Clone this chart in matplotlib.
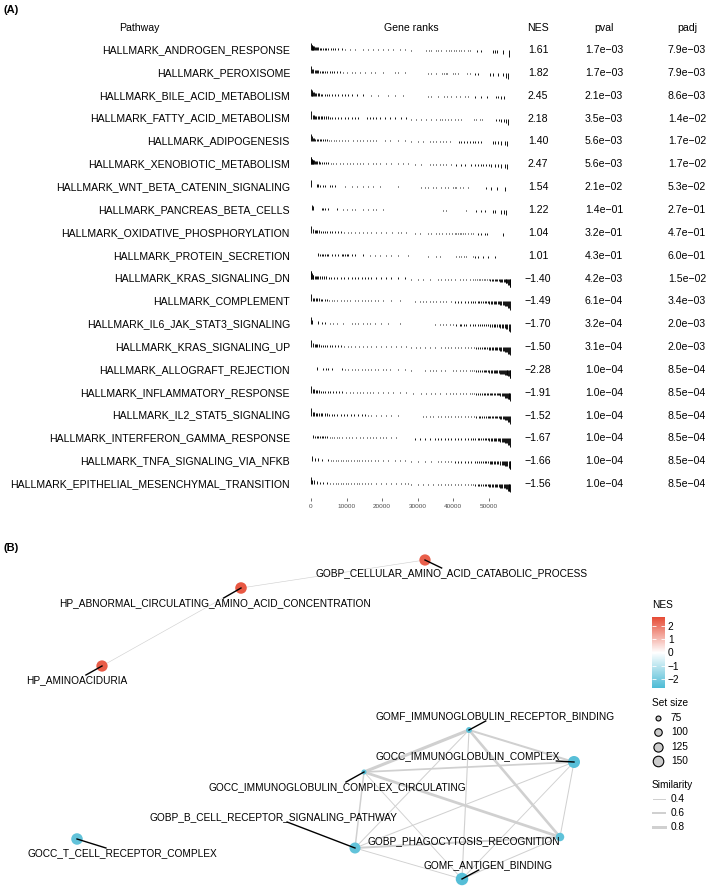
import numpy as np
import matplotlib.pyplot as plt
from matplotlib.colors import LinearSegmentedColormap, TwoSlopeNorm
from matplotlib.cm import ScalarMappable
from matplotlib.transforms import blended_transform_factory

plt.rcParams['font.family'] = ['Liberation Sans', 'DejaVu Sans']

# ---------------- data: panel A (GSEA table) ----------------
pathways = [
    "HALLMARK_ANDROGEN_RESPONSE", "HALLMARK_PEROXISOME", "HALLMARK_BILE_ACID_METABOLISM",
    "HALLMARK_FATTY_ACID_METABOLISM", "HALLMARK_ADIPOGENESIS", "HALLMARK_XENOBIOTIC_METABOLISM",
    "HALLMARK_WNT_BETA_CATENIN_SIGNALING", "HALLMARK_PANCREAS_BETA_CELLS",
    "HALLMARK_OXIDATIVE_PHOSPHORYLATION", "HALLMARK_PROTEIN_SECRETION",
    "HALLMARK_KRAS_SIGNALING_DN", "HALLMARK_COMPLEMENT", "HALLMARK_IL6_JAK_STAT3_SIGNALING",
    "HALLMARK_KRAS_SIGNALING_UP", "HALLMARK_ALLOGRAFT_REJECTION", "HALLMARK_INFLAMMATORY_RESPONSE",
    "HALLMARK_IL2_STAT5_SIGNALING", "HALLMARK_INTERFERON_GAMMA_RESPONSE",
    "HALLMARK_TNFA_SIGNALING_VIA_NFKB", "HALLMARK_EPITHELIAL_MESENCHYMAL_TRANSITION",
]
nes = [1.61, 1.82, 2.45, 2.18, 1.40, 2.47, 1.54, 1.22, 1.04, 1.01,
       -1.40, -1.49, -1.70, -1.50, -2.28, -1.91, -1.52, -1.67, -1.66, -1.56]
pval = [1.7e-3, 1.7e-3, 2.1e-3, 3.5e-3, 5.6e-3, 5.6e-3, 2.1e-2, 1.4e-1, 3.2e-1, 4.3e-1,
        4.2e-3, 6.1e-4, 3.2e-4, 3.1e-4, 1.0e-4, 1.0e-4, 1.0e-4, 1.0e-4, 1.0e-4, 1.0e-4]
padj = [7.9e-3, 7.9e-3, 8.6e-3, 1.4e-2, 1.7e-2, 1.7e-2, 5.3e-2, 2.7e-1, 4.7e-1, 6.0e-1,
        1.5e-2, 3.4e-3, 2.0e-3, 2.0e-3, 8.5e-4, 8.5e-4, 8.5e-4, 8.5e-4, 8.5e-4, 8.5e-4]

n_genes = 56200
rank_ticks = [0, 10000, 20000, 30000, 40000, 50000]

# ranked statistic (scaled to max |stat| = 1), read as steps along the rank axis (thousands)
stat_edges_k = [0, 0.15, 0.4, 1.0, 2.5, 5.0, 9.0, 16.0, 28.0, 40.0, 46.0, 50.0, 53.0, 54.5, 55.3, 55.8]
stat_values = [0.75, 0.55, 0.4, 0.3, 0.22, 0.17, 0.13, 0.11, -0.11, -0.14, -0.2, -0.28, -0.38, -0.5, -0.68, -0.85]

# gene positions of each pathway in the ranked list (thousands)
gene_ranks_k = [
    [0.05, 0.15, 0.3, 0.5, 0.7, 0.9, 1.2, 1.5, 1.8, 2.1, 2.5, 2.9, 3.3, 3.8, 4.3, 4.9, 5.5, 6.1, 6.8, 7.6,
     8.6, 9.6, 11.0, 12.4, 14.7, 16.1, 17.5, 18.9, 20.3, 21.7, 23.1, 25.0, 26.4, 28.2, 32.2, 33.1, 33.8,
     35.0, 35.7, 36.6, 38.0, 38.7, 39.4, 40.2, 40.8, 41.5, 42.2, 43.0, 44.1, 44.8, 46.6, 47.7, 51.1, 51.7,
     52.2, 54.0, 55.7],
    [0.1, 0.4, 0.7, 1.0, 1.3, 1.7, 2.1, 2.5, 3.0, 3.5, 4.0, 4.6, 5.2, 5.9, 6.6, 7.3, 8.1, 9.1, 10.0, 11.4,
     12.3, 13.7, 15.1, 17.0, 17.9, 20.3, 23.6, 24.5, 26.4, 32.9, 33.8, 35.2, 36.9, 37.4, 37.9, 38.3, 39.9,
     40.4, 41.3, 43.7, 44.6, 46.0, 46.9, 50.2, 51.1, 52.5, 53.9, 54.9, 55.4],
    [0.05, 0.2, 0.4, 0.6, 0.9, 1.2, 1.5, 1.9, 2.3, 2.7, 3.2, 3.8, 4.4, 5.1, 5.8, 6.7, 7.7, 8.6, 9.5, 10.5,
     11.4, 12.8, 14.7, 17.0, 18.9, 21.7, 23.6, 25.9, 32.9, 33.8, 35.7, 37.4, 38.3, 39.4, 40.8, 41.8, 43.2,
     44.1, 46.0, 47.9, 49.5, 52.1, 52.5, 53.5, 54.2],
    [0.05, 0.6, 0.9, 1.2, 1.5, 1.9, 2.3, 2.7, 3.1, 3.6, 4.1, 4.7, 5.3, 6.0, 6.8, 7.6, 8.5, 9.5, 10.5, 11.4,
     12.3, 13.3, 15.6, 16.5, 17.5, 18.4, 19.3, 20.7, 22.1, 23.6, 25.4, 26.8, 28.2, 29.6, 31.0, 32.4, 33.8,
     35.2, 36.2, 36.8, 37.6, 38.5, 39.4, 40.4, 41.3, 42.2, 45.8, 46.4, 47.4, 48.0, 52.1, 52.7, 53.5, 54.1,
     54.7, 55.3],
    [0.05, 0.3, 0.6, 0.9, 1.2, 1.6, 2.0, 2.4, 2.9, 3.4, 3.9, 4.5, 5.1, 5.7, 6.4, 7.1, 7.9, 8.7, 9.6, 10.5,
     11.9, 12.8, 13.8, 14.7, 15.6, 16.5, 17.5, 18.4, 20.7, 22.1, 24.5, 26.4, 28.2, 30.1, 31.5, 33.4, 34.3,
     35.2, 36.2, 37.1, 38.0, 39.0, 41.5, 42.2, 43.0, 43.7, 44.6, 45.5, 46.2, 46.9, 47.9, 51.1, 51.8, 52.5,
     53.5, 54.4, 55.1],
    [0.02, 0.1, 0.2, 0.35, 0.5, 0.7, 0.9, 1.2, 1.5, 1.8, 2.2, 2.6, 3.1, 3.6, 4.2, 4.8, 5.5, 6.2, 6.9, 8.1,
     9.1, 10.0, 11.0, 11.9, 12.8, 13.8, 14.7, 16.1, 17.5, 18.4, 19.3, 21.2, 22.6, 24.5, 25.9, 27.3, 29.2,
     31.0, 33.4, 34.3, 35.2, 36.2, 37.1, 38.0, 39.4, 40.8, 42.2, 43.2, 45.0, 46.0, 46.9, 47.7, 48.3, 49.3,
     49.9, 50.7, 51.6, 52.5, 53.5, 54.4, 55.0],
    [0.05, 1.6, 2.1, 2.5, 3.5, 3.9, 5.3, 5.8, 6.7, 9.5, 11.4, 12.8, 14.7, 16.1, 17.5, 19.3, 24.5, 31.0,
     32.0, 32.9, 34.3, 35.2, 36.6, 37.6, 38.5, 39.9, 40.4, 40.8, 41.8, 42.7, 44.1, 49.3, 50.7, 52.3, 54.4],
    [0.2, 0.65, 3.0, 3.5, 3.9, 4.7, 7.2, 9.1, 10.0, 11.4, 12.3, 14.7, 16.1, 17.5, 18.4, 20.3, 37.1, 38.0,
     43.6, 46.4, 47.9, 48.8, 51.1, 51.8, 53.5, 54.2, 54.9],
    [0.05, 0.6, 1.0, 1.4, 1.8, 2.3, 2.8, 3.3, 3.9, 4.5, 5.2, 5.9, 6.7, 7.5, 8.4, 9.3, 10.3, 11.3, 12.3,
     13.4, 14.5, 15.6, 16.8, 18.2, 19.6, 21.0, 22.9, 24.5, 25.4, 26.8, 29.2, 30.6, 32.9, 33.8, 35.0, 35.9,
     36.8, 37.8, 38.7, 39.6, 40.4, 40.8, 41.3, 41.8, 42.2, 42.7, 43.2, 44.1, 45.0, 45.5, 46.9, 47.7, 48.8,
     49.5, 54.0],
    [2.1, 2.5, 3.0, 3.5, 3.9, 4.4, 4.9, 5.8, 6.7, 7.7, 8.6, 9.1, 9.5, 10.0, 10.5, 11.4, 12.3, 14.7, 16.5,
     17.9, 19.3, 21.2, 22.6, 24.5, 27.3, 32.9, 35.2, 36.2, 40.8, 41.5, 42.2, 43.0, 43.6, 45.5, 46.2, 46.9,
     48.3, 49.7, 51.6],
    [0.02, 0.1, 0.25, 0.45, 0.7, 1.0, 1.3, 1.7, 2.1, 2.6, 3.1, 3.7, 4.3, 5.0, 5.7, 6.5, 7.4, 8.4, 9.4, 10.5,
     11.4, 12.3, 13.3, 14.2, 15.1, 16.1, 17.0, 18.4, 19.8, 21.2, 22.6, 24.5, 26.4, 28.2, 30.1, 31.5, 33.4,
     35.7, 36.6, 37.6, 38.5, 39.4, 40.4, 41.8, 42.7, 43.6, 44.6, 45.5, 46.0, 46.6, 47.1, 47.6, 48.1, 48.6,
     49.0, 49.5, 49.9, 50.4, 50.8, 51.2, 51.6, 52.0, 52.4, 52.8, 53.1, 53.5, 53.8, 54.1, 54.4, 54.7, 54.9,
     55.2, 55.4, 55.6, 55.8, 56.0],
    [0.05, 0.5, 0.9, 1.3, 1.7, 2.2, 2.7, 3.2, 3.8, 4.4, 5.1, 5.8, 6.6, 7.4, 8.3, 9.2, 10.1, 11.0, 12.3,
     13.3, 14.2, 15.1, 16.1, 17.0, 17.9, 18.9, 20.3, 22.6, 24.9, 29.2, 30.6, 31.5, 32.4, 33.4, 34.3, 35.2,
     36.2, 37.1, 38.0, 39.4, 40.4, 41.3, 42.2, 43.2, 44.1, 45.0, 45.6, 46.2, 46.8, 47.3, 47.8, 48.3, 48.8,
     49.2, 49.7, 50.1, 50.5, 50.9, 51.3, 51.7, 52.1, 52.5, 52.9, 53.2, 53.5, 53.9, 54.2, 54.5, 54.8, 55.1,
     55.4, 55.7, 55.9],
    [0.05, 0.4, 2.0, 3.0, 3.9, 5.3, 6.3, 7.2, 9.1, 11.4, 12.3, 13.3, 14.7, 15.6, 16.5, 18.0, 19.8, 21.7,
     24.9, 34.8, 36.2, 37.1, 38.0, 39.0, 39.9, 40.8, 41.8, 42.2, 43.0, 43.6, 44.6, 45.5, 46.2, 46.9, 47.5,
     48.1, 48.7, 49.2, 49.8, 50.3, 50.8, 51.3, 51.8, 52.3, 52.7, 53.1, 53.6, 54.0, 54.4, 54.8, 55.2, 55.6,
     55.9],
    [0.05, 0.6, 1.0, 1.4, 1.8, 2.3, 2.8, 3.3, 3.9, 4.5, 5.2, 5.9, 6.7, 7.5, 8.4, 9.3, 10.3, 11.3, 12.3,
     13.4, 14.5, 15.6, 17.0, 18.4, 19.8, 21.2, 22.6, 24.0, 25.4, 26.8, 28.2, 29.6, 30.6, 31.9, 33.4, 34.8,
     36.6, 37.6, 38.5, 39.4, 40.4, 41.3, 42.2, 43.2, 44.1, 45.0, 45.7, 46.3, 46.9, 47.5, 48.0, 48.5, 49.0,
     49.5, 50.0, 50.4, 50.8, 51.2, 51.6, 52.0, 52.4, 52.8, 53.2, 53.5, 53.9, 54.2, 54.5, 54.8, 55.1, 55.4,
     55.7, 55.9],
    [1.6, 3.5, 4.2, 4.9, 5.8, 8.6, 9.5, 10.5, 11.4, 12.3, 13.3, 14.2, 15.1, 16.1, 17.0, 17.9, 18.9, 20.3,
     21.2, 22.1, 24.5, 26.4, 28.2, 31.9, 33.4, 34.3, 35.2, 36.6, 37.6, 39.9, 40.8, 41.8, 42.7, 43.6, 44.6,
     45.3, 45.9, 46.5, 47.0, 47.5, 48.0, 48.5, 48.9, 49.3, 49.7, 50.1, 50.5, 50.9, 51.3, 51.7, 52.0, 52.4,
     52.7, 53.0, 53.3, 53.6, 53.9, 54.2, 54.5, 54.7, 55.0, 55.2, 55.4, 55.6, 55.8, 56.0],
    [0.05, 0.5, 0.9, 1.3, 1.8, 2.3, 2.8, 3.4, 4.0, 4.7, 5.4, 6.2, 7.0, 7.9, 8.8, 9.8, 11.0, 11.9, 12.8,
     13.8, 14.7, 15.6, 16.5, 17.5, 18.9, 20.3, 21.7, 23.1, 24.9, 26.8, 28.7, 31.0, 32.4, 33.8, 34.8, 36.2,
     38.0, 39.0, 39.9, 40.8, 41.8, 42.7, 43.6, 44.6, 45.2, 45.8, 46.4, 47.0, 47.5, 48.0, 48.5, 49.0, 49.4,
     49.8, 50.2, 50.6, 51.0, 51.4, 51.8, 52.2, 52.6, 52.9, 53.2, 53.6, 53.9, 54.2, 54.5, 54.8, 55.0, 55.3,
     55.5, 55.7, 55.9],
    [0.05, 0.5, 0.9, 1.3, 1.7, 2.2, 2.7, 3.2, 3.8, 4.4, 5.1, 5.8, 6.6, 7.4, 8.3, 9.2, 10.2, 11.2, 12.2,
     13.2, 14.2, 15.1, 16.1, 17.0, 18.4, 19.8, 21.2, 22.6, 24.5, 31.5, 32.4, 33.4, 34.3, 35.7, 36.6, 37.6,
     38.5, 39.4, 40.4, 41.3, 42.2, 43.2, 44.1, 45.0, 45.9, 46.5, 47.1, 47.6, 48.1, 48.6, 49.1, 49.6, 50.0,
     50.4, 50.8, 51.2, 51.6, 52.0, 52.4, 52.8, 53.2, 53.5, 53.9, 54.2, 54.5, 54.8, 55.1, 55.4, 55.7, 55.9],
    [0.7, 1.1, 1.6, 2.1, 2.5, 3.0, 3.5, 4.0, 4.6, 5.2, 5.8, 6.5, 7.2, 8.0, 8.8, 9.7, 10.6, 11.5, 12.6, 13.7,
     14.7, 15.6, 16.5, 17.5, 18.4, 19.3, 20.3, 21.2, 22.6, 24.0, 29.2, 30.6, 32.0, 33.4, 34.8, 35.7, 36.6,
     37.6, 38.5, 39.4, 40.4, 41.3, 42.2, 43.2, 44.1, 45.0, 45.6, 46.2, 46.8, 47.3, 47.8, 48.3, 48.8, 49.3,
     49.7, 50.1, 50.5, 50.9, 51.3, 51.7, 52.1, 52.5, 52.9, 53.2, 53.6, 53.9, 54.2, 54.5, 54.8, 55.1, 55.4,
     55.7, 55.9],
    [0.2, 1.1, 2.1, 3.0, 4.9, 5.6, 6.3, 7.0, 7.7, 8.4, 9.1, 9.8, 10.5, 11.2, 12.0, 12.8, 13.6, 14.4, 15.1,
     16.1, 17.0, 17.9, 18.9, 20.3, 21.7, 23.6, 25.0, 26.4, 28.2, 30.1, 31.9, 33.8, 35.7, 36.6, 37.6, 38.5,
     39.4, 40.4, 41.3, 42.2, 43.2, 44.1, 45.0, 46.0, 46.6, 47.2, 47.8, 48.3, 48.8, 49.3, 49.8, 50.2, 50.6,
     51.0, 51.4, 51.8, 52.2, 52.6, 53.0, 53.6, 54.0, 54.3, 54.6, 54.9, 55.2, 55.5, 55.8, 56.0],
    [0.05, 0.4, 0.9, 1.6, 2.5, 3.5, 4.4, 5.3, 6.3, 7.0, 7.7, 8.4, 9.1, 9.8, 10.5, 11.2, 12.0, 12.8, 13.6,
     14.2, 15.1, 16.1, 17.0, 18.4, 19.8, 21.2, 22.6, 24.0, 25.4, 26.4, 27.3, 28.2, 30.1, 31.5, 32.9, 34.3,
     35.7, 36.6, 37.6, 38.5, 39.4, 40.4, 41.3, 42.2, 43.2, 44.1, 45.0, 45.6, 46.2, 46.8, 47.3, 47.8, 48.3,
     48.8, 49.2, 49.6, 50.0, 50.4, 50.8, 51.2, 51.6, 52.0, 52.4, 52.8, 53.1, 53.5, 53.8, 54.1, 54.4, 54.7,
     55.0, 55.3, 55.5, 55.7, 55.9],
]

# ---------------- data: panel B (enrichment network) ----------------
node_names = [
    "GOBP_CELLULAR_AMINO_ACID_CATABOLIC_PROCESS", "HP_ABNORMAL_CIRCULATING_AMINO_ACID_CONCENTRATION",
    "HP_AMINOACIDURIA", "GOMF_IMMUNOGLOBULIN_RECEPTOR_BINDING", "GOCC_IMMUNOGLOBULIN_COMPLEX",
    "GOCC_IMMUNOGLOBULIN_COMPLEX_CIRCULATING", "GOBP_B_CELL_RECEPTOR_SIGNALING_PATHWAY",
    "GOBP_PHAGOCYTOSIS_RECOGNITION", "GOMF_ANTIGEN_BINDING", "GOCC_T_CELL_RECEPTOR_COMPLEX",
]
node_nes = [2.35, 2.45, 2.40, -2.45, -2.55, -2.50, -2.40, -2.45, -2.60, -2.40]
node_size = [145, 150, 145, 75, 160, 70, 140, 100, 170, 150]
# layout coordinates (x right, y up)
layout_x = [4.25, 2.41, 1.02, 4.69, 5.74, 3.64, 3.55, 5.60, 4.62, 0.77]
layout_y = [3.30, 3.02, 2.24, 1.60, 1.28, 1.18, 0.42, 0.53, 0.11, 0.51]
label_x = [4.52, 2.15, 0.77, 4.95, 4.68, 3.37, 2.74, 4.64, 4.88, 1.22]
label_y = [3.17, 2.87, 2.10, 1.74, 1.34, 1.03, 0.73, 0.49, 0.25, 0.37]

edge_from = [0, 1, 3, 3, 3, 3, 3, 5, 5, 5, 5, 4, 4, 4, 6, 6, 7]
edge_to = [1, 2, 5, 4, 7, 6, 8, 4, 7, 6, 8, 6, 7, 8, 7, 8, 8]
edge_sim = [0.32, 0.32, 0.82, 0.6, 0.72, 0.4, 0.42, 0.55, 0.75, 0.5, 0.38, 0.4, 0.4, 0.38, 0.6, 0.38, 0.4]

legend_sizes = [75, 100, 125, 150]
legend_sims = [0.4, 0.6, 0.8]
nes_ticks = [2, 1, 0, -1, -2]

# ---------------- figure ----------------
W, H = 709, 890
fig = plt.figure(figsize=(W / 100, H / 100), dpi=100)


def fx(px):
    return px / W


def fy(py):
    return 1 - py / H


def minus(s):
    return s.replace('-', '\u2212')


# --- panel A ---
row_top, row_step = 50, 22.85
ax_top_px = row_top - 0.5 * row_step
ax_bot_px = 498
ax = fig.add_axes([fx(311), fy(ax_bot_px), fx(511) - fx(311), (ax_bot_px - ax_top_px) / H])
ax.set_xlim(0, n_genes)
ax.set_ylim((ax_bot_px - row_top) / row_step, -0.5)

for i, ranks in enumerate(gene_ranks_k):
    r = np.array(ranks)
    idx = np.searchsorted(stat_edges_k, r, side='right') - 1
    h = np.array(stat_values)[idx] * 0.42
    ax.vlines(r * 1000, i, i - h, color='black', lw=0.65)

ax.set_xticks(rank_ticks)
ax.set_xticklabels([str(t) for t in rank_ticks])
ax.tick_params(axis='x', length=2.5, width=0.5, color='#333333', pad=1.5, labelsize=4.6, labelcolor='#4d4d4d')
ax.set_yticks([])
for s in ax.spines.values():
    s.set_visible(False)

tr = blended_transform_factory(fig.transFigure, ax.transData)
fs = 7.6
head_y = (28 - row_top) / row_step
ax.text(fx(139), head_y, "Pathway", transform=tr, ha='center', va='center', fontsize=fs)
ax.text(fx(411), head_y, "Gene ranks", transform=tr, ha='center', va='center', fontsize=fs)
ax.text(fx(538), head_y, "NES", transform=tr, ha='center', va='center', fontsize=fs)
ax.text(fx(604), head_y, "pval", transform=tr, ha='center', va='center', fontsize=fs)
ax.text(fx(687), head_y, "padj", transform=tr, ha='center', va='center', fontsize=fs)
for i, name in enumerate(pathways):
    ax.text(fx(290), i, name, transform=tr, ha='right', va='center', fontsize=fs)
    ax.text(fx(538), i, minus(f"{nes[i]:.2f}"), transform=tr, ha='center', va='center', fontsize=fs)
    ax.text(fx(604), i, minus(f"{pval[i]:.1e}"), transform=tr, ha='center', va='center', fontsize=fs)
    ax.text(fx(687), i, minus(f"{padj[i]:.1e}"), transform=tr, ha='center', va='center', fontsize=fs)

fig.text(fx(3), fy(10), "(A)", fontsize=8, fontweight='bold', ha='left', va='center')
fig.text(fx(3), fy(548), "(B)", fontsize=8, fontweight='bold', ha='left', va='center')

# --- panel B ---
cmap = LinearSegmentedColormap.from_list('nes', ['#4DBBD5', '#FFFFFF', '#E64B35'])
norm = TwoSlopeNorm(vmin=-2.73, vcenter=0, vmax=2.65)


def diam_px(size):
    return 3.0 + 9.5 * np.sqrt((np.asarray(size, float) - 65) / (170 - 65))


def edge_px(sim):
    return 1 + 5 * (np.asarray(sim, float) - 0.4)


edge_col = '#d0d0d0'
axb = fig.add_axes([0, 0, 1, 360 / H])
axb.set_xlim(0, 7.09)
axb.set_ylim(0, 3.6)
axb.axis('off')

for a, b, s in zip(edge_from, edge_to, edge_sim):
    axb.plot([layout_x[a], layout_x[b]], [layout_y[a], layout_y[b]], color=edge_col,
             lw=max(edge_px(s), 0.5) * 0.72, solid_capstyle='round', zorder=1)

d = diam_px(node_size)
axb.scatter(layout_x, layout_y, s=(0.72 * d) ** 2, c=cmap(norm(node_nes)), edgecolors='none', zorder=3)

texts = []
for i, name in enumerate(node_names):
    texts.append(axb.text(label_x[i], label_y[i], name, ha='center', va='center', fontsize=7.3, zorder=5))

# leader segments (label box -> node), like ggrepel
fig.canvas.draw()
inv = axb.transData.inverted()
for i, t in enumerate(texts):
    bb = t.get_window_extent()
    (x0, y0), (x1, y1) = inv.transform([[bb.x0, bb.y0], [bb.x1, bb.y1]])
    cx, cy = label_x[i], label_y[i]
    nx, ny = layout_x[i], layout_y[i]
    if x0 <= nx <= x1 and y0 <= ny <= y1:
        continue
    dx, dy = nx - cx, ny - cy
    ts = []
    if dx != 0:
        ts.append(((x1 if dx > 0 else x0) - cx) / dx)
    if dy != 0:
        ts.append(((y1 if dy > 0 else y0) - cy) / dy)
    tmin = min(tt for tt in ts if tt > 0)
    sx, sy = cx + tmin * dx, cy + tmin * dy
    if np.hypot(nx - sx, ny - sy) < 0.05:
        continue
    axb.plot([sx, nx], [sy, ny], color='black', lw=1.0, zorder=4)

# --- legends (figure pixel space) ---
axl = fig.add_axes([0, 0, 1, 1], facecolor='none')
axl.set_xlim(0, W)
axl.set_ylim(H, 0)
axl.axis('off')
lfs = 7.3
axl.text(652, 605, "NES", fontsize=lfs, ha='left', va='center')
cax = fig.add_axes([fx(652), fy(688), 13 / W, (688 - 617) / H])
cb = fig.colorbar(ScalarMappable(norm=norm, cmap=cmap), cax=cax)
cb.outline.set_visible(False)
cb.set_ticks(nes_ticks)
cb.set_ticklabels([minus(str(v)) for v in nes_ticks])
cax.yaxis.set_ticks_position('both')
cax.tick_params(direction='in', color='white', length=2.6, width=0.6, labelsize=lfs, pad=2,
                labelleft=False, labelright=True)

axl.text(652, 703, "Set size", fontsize=lfs, ha='left', va='center')
for k, v in enumerate(legend_sizes):
    yy = 718 + k * 14.3
    axl.scatter([658], [yy], s=(0.72 * (diam_px(v) - 1)) ** 2, facecolor='#cccccc', edgecolor='black', lw=0.8)
    axl.text(671, yy, str(v), fontsize=lfs, ha='left', va='center')

axl.text(652, 785, "Similarity", fontsize=lfs, ha='left', va='center')
for k, v in enumerate(legend_sims):
    yy = 799 + k * 14
    axl.plot([653, 665], [yy, yy], color=edge_col, lw=edge_px(v) * 0.72)
    axl.text(671, yy, str(v), fontsize=lfs, ha='left', va='center')

fig.savefig('out.png', dpi=100)
